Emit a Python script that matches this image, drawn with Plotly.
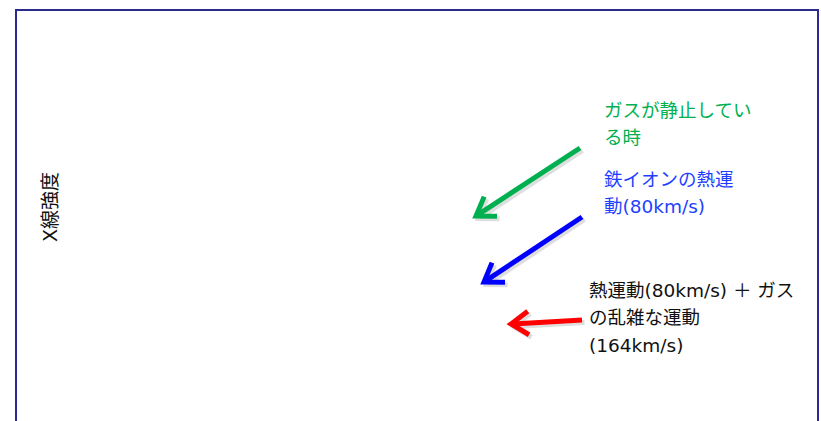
import math
import plotly.graph_objects as go

# Annotation content
axis_title = "X線強度"
green_lines = ["ガスが静止してい", "る時"]
blue_lines = ["鉄イオンの熱運", "動(80km/s)"]
black_lines = ["熱運動(80km/s) ＋ ガス", "の乱雑な運動", "(164km/s)"]

# Arrow endpoints in the chart's own coordinate space (tail -> head)
arrow_tail_x = [580, 582, 582]
arrow_tail_y = [148, 217, 320]
arrow_head_x = [476, 484, 511]
arrow_head_y = [216, 282, 324]
arrow_colors = ["#00B050", "#0000FF", "#FF0000"]

W, H = 821, 421
FONT = "DejaVu Sans, Noto Sans CJK JP, sans-serif"

fig = go.Figure()
fig.add_trace(go.Scatter(x=[], y=[], mode="lines", showlegend=False))

shapes = [dict(type="rect", xref="x", yref="y", x0=16, x1=818, y0=10, y1=440,
               line=dict(color="#2B2A8E", width=2), fillcolor="rgba(0,0,0,0)", layer="below")]

ARM = 21
ANG = math.radians(34)
for tx, ty, hx, hy, c in zip(arrow_tail_x, arrow_tail_y, arrow_head_x, arrow_head_y, arrow_colors):
    dx, dy = tx - hx, ty - hy
    L = math.hypot(dx, dy)
    ux, uy = dx / L, dy / L
    a1 = (hx + ARM * (ux * math.cos(ANG) - uy * math.sin(ANG)),
          hy + ARM * (ux * math.sin(ANG) + uy * math.cos(ANG)))
    a2 = (hx + ARM * (ux * math.cos(-ANG) - uy * math.sin(-ANG)),
          hy + ARM * (ux * math.sin(-ANG) + uy * math.cos(-ANG)))
    for sh, col in ((2.5, "rgba(0,0,0,0.13)"), (0, c)):
        shaft = f"M {tx+sh},{ty+sh} L {hx+ux*2+sh},{hy+uy*2+sh}"
        head = f"M {a1[0]+sh},{a1[1]+sh} L {hx+sh},{hy+sh} L {a2[0]+sh},{a2[1]+sh}"
        for p in (shaft, head):
            shapes.append(dict(type="path", xref="x", yref="y", path=p,
                               line=dict(color=col, width=5)))

annotations = []

def add_lines(lines, x0, y0, step, color):
    for i, t in enumerate(lines):
        annotations.append(dict(
            x=x0, y=y0 + i * step, xref="x", yref="y", text=t, showarrow=False,
            xanchor="left", yanchor="middle",
            font=dict(family=FONT, size=18.5, color=color)))

add_lines(green_lines, 602, 110, 27, "#00B050")
add_lines(blue_lines, 602, 179, 27, "#1F3FFF")
add_lines(black_lines, 587, 290, 27.5, "#111111")

annotations.append(dict(
    x=50, y=207, xref="x", yref="y", text=axis_title, showarrow=False,
    textangle=-90, xanchor="center", yanchor="middle",
    font=dict(family=FONT, size=19, color="#111111")))

fig.update_layout(
    width=W, height=H,
    margin=dict(l=0, r=0, t=0, b=0),
    paper_bgcolor="white", plot_bgcolor="white",
    xaxis=dict(range=[0, W], visible=False, fixedrange=True),
    yaxis=dict(range=[H, 0], visible=False, fixedrange=True),
    annotations=annotations,
    shapes=shapes,
    showlegend=False,
)

fig.write_html(
    "out.html",
    config={"displayModeBar": False},
    post_script="document.body.style.margin='0';document.body.style.overflow='hidden';",
)
